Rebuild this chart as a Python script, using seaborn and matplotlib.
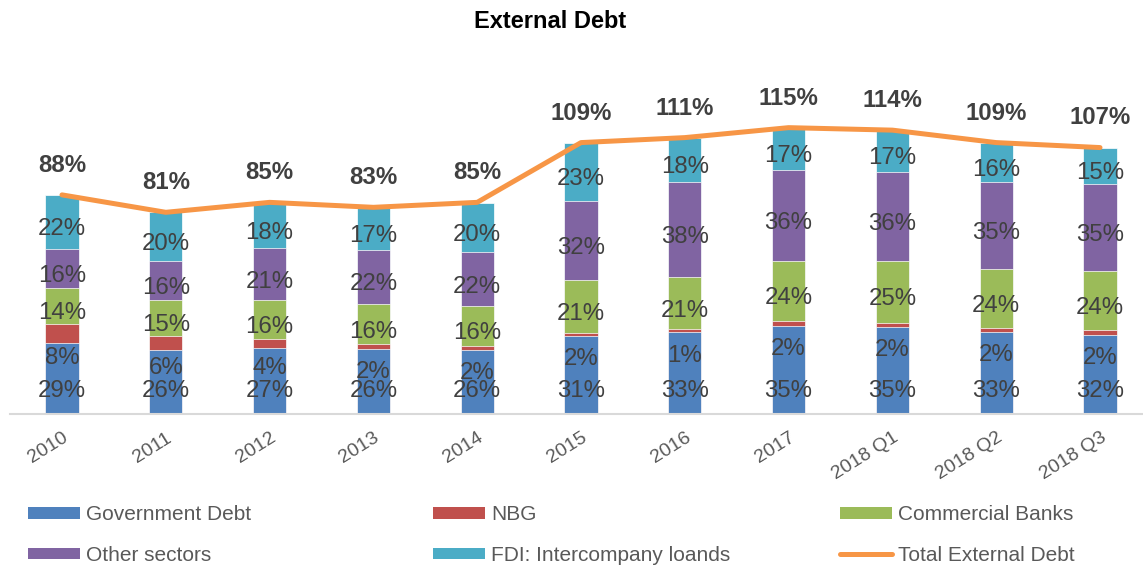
import numpy as np
import pandas as pd
import matplotlib
matplotlib.use("Agg")
import matplotlib.pyplot as plt
from matplotlib.patches import Patch
from matplotlib.lines import Line2D
import seaborn as sns

# ---- data (% of GDP) ----
categories = ["2010", "2011", "2012", "2013", "2014", "2015", "2016", "2017",
              "2018 Q1", "2018 Q2", "2018 Q3"]
government_debt = [28.6, 25.6, 26.6, 26.0, 25.8, 31.2, 33.0, 35.2, 34.8, 32.8, 31.8]
nbg = [7.6, 5.6, 3.6, 2.0, 1.6, 1.5, 1.0, 2.2, 1.8, 1.8, 1.8]
commercial_banks = [14.3, 14.6, 15.6, 16.0, 15.8, 21.0, 21.0, 24.2, 24.8, 23.8, 23.8]
other_sectors = [15.6, 15.6, 20.7, 22.0, 21.8, 32.0, 38.0, 36.2, 35.8, 34.8, 34.8]
fdi_loans = [22.0, 19.6, 18.3, 17.0, 19.8, 23.3, 18.0, 17.2, 16.8, 15.8, 14.8]
total_external_debt = [88, 81, 85, 83, 85, 109, 111, 115, 114, 109, 107]

series_names = ["Government Debt", "NBG", "Commercial Banks", "Other sectors",
                "FDI: Intercompany loands"]
series_values = [government_debt, nbg, commercial_banks, other_sectors, fdi_loans]
series_colors = ["#4F81BD", "#C0504D", "#9BBB59", "#8064A2", "#4BACC6"]
line_color = "#F79646"

sns.set_theme(style="white")
plt.rcParams["font.family"] = ["Liberation Sans", "DejaVu Sans"]

W, H = 1143, 566
fig = plt.figure(figsize=(W / 100, H / 100), dpi=100)
ax_left, ax_bottom_px, ax_top_px = 10, 414, 60
ax = fig.add_axes([ax_left / W, (H - ax_bottom_px) / H,
                   (W - ax_left) / W, (ax_bottom_px - ax_top_px) / H])

vals = np.array(series_values, dtype=float)
cum = np.cumsum(vals, axis=0)
x = np.arange(len(categories))

# stacked bars: draw cumulative totals from top series down
for k in range(len(series_names) - 1, -1, -1):
    df = pd.DataFrame({"cat": categories, "val": cum[k]})
    sns.barplot(data=df, x="cat", y="val", color=series_colors[k], width=0.32,
                saturation=1, edgecolor="white", linewidth=0.5, ax=ax, zorder=2)

# total line
sns.lineplot(x=x, y=total_external_debt, color=line_color, linewidth=3.6,
             sort=False, ax=ax, zorder=4, solid_capstyle="round")

label_color = "#404040"
fs_seg = 17.3
for k in range(len(series_names)):
    bottoms = cum[k] - vals[k]
    centers = bottoms + vals[k] / 2
    for i in range(len(categories)):
        txt = f"{vals[k][i]:.0f}%"
        if k == 0:
            xy, off = (x[i], 0), 16.3
        elif k == 1:
            xy, off = (x[i], centers[i]), -18
        else:
            xy, off = (x[i], centers[i]), -5.3
        ax.annotate(txt, xy=xy, xytext=(0, off), textcoords="offset points",
                    ha="center", va="center", fontsize=fs_seg, color=label_color,
                    zorder=5)

for i, t in enumerate(total_external_debt):
    ax.annotate(f"{t}%", xy=(x[i], t), xytext=(0, 21.3), textcoords="offset points",
                ha="center", va="center", fontsize=fs_seg, fontweight="bold",
                color=label_color, zorder=5)

scale = 2.49  # px per unit
ax.set_ylim(0, (ax_bottom_px - ax_top_px) / scale)
ax.set_xlim(-(62 - ax_left) / 103.8, 10 + (W - 1100) / 103.8)
ax.set_xlabel("")
ax.set_ylabel("")
ax.set_yticks([])
for s in ["left", "right", "top"]:
    ax.spines[s].set_visible(False)
ax.spines["bottom"].set_color("#D9D9D9")
ax.spines["bottom"].set_linewidth(1.5)
ax.tick_params(axis="x", length=0, pad=11, labelsize=14, labelcolor="#595959")
ax.set_xticks(x)
ax.set_xticklabels(categories, rotation=32, ha="right", va="top",
                   rotation_mode="anchor")

fig.text(550 / W, 1 - 22 / H, "External Debt", ha="center", va="center",
         fontsize=17, fontweight="bold", color="black")

# legends: three columns of two rows
handles = [Patch(facecolor=c, edgecolor="none") for c in series_colors]
total_handle = Line2D([], [], color=line_color, linewidth=3.6, solid_capstyle="round")
columns = [
    ([handles[0], handles[3]], [series_names[0], series_names[3]], 28),
    ([handles[1], handles[4]], [series_names[1], series_names[4]], 433),
    ([handles[2], total_handle], [series_names[2], "Total External Debt"], 840),
]
for hs, ls, xpx in columns:
    leg = fig.legend(hs, ls, loc="center left",
                     bbox_to_anchor=(xpx / W, 1 - 535 / H),
                     bbox_transform=fig.transFigure, frameon=False,
                     fontsize=15, labelcolor="#595959", handlelength=2.5,
                     handleheight=0.5, handletextpad=0.3, labelspacing=1.05,
                     borderpad=0, borderaxespad=0)

fig.savefig("out.png", dpi=100)
